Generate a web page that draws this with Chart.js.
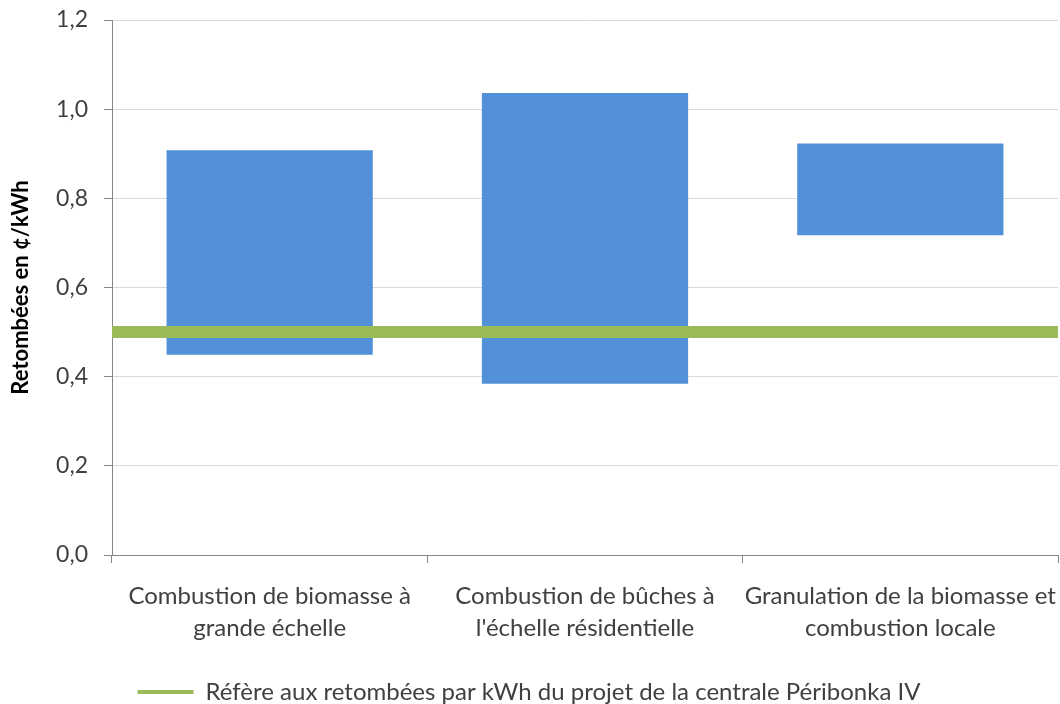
<!DOCTYPE html>
<html lang="fr">
<head>
<meta charset="utf-8">
<title>Retombées en ¢/kWh</title>
<script src="https://cdn.jsdelivr.net/npm/chart.js@4/dist/chart.umd.min.js"></script>
<style>
  html, body { margin: 0; padding: 0; background: #fff; }
  #wrap { width: 1060px; height: 704px; }
</style>
</head>
<body>
<div id="wrap"><canvas id="retombeesChart" width="1060" height="704"></canvas></div>
<script>
const categories = [
  ["Combustion de biomasse à", "grande échelle"],
  ["Combustion de bûches à", "l'échelle résidentielle"],
  ["Granulation de la biomasse et", "combustion locale"]
];
const lowValues = [0.449, 0.384, 0.717];
const highValues = [0.908, 1.036, 0.923];
const referenceValue = 0.5;
const referenceLabel = "Réfère aux retombées par kWh du projet de la centrale Péribonka IV";
const yTicks = [0, 0.2, 0.4, 0.6, 0.8, 1.0, 1.2];

const textColor = "#404040";
const fontName = "Lato";

const ranges = lowValues.map((low, i) => [low, highValues[i]]);

const ctx = document.getElementById("retombeesChart").getContext("2d");

new Chart(ctx, {
  type: "bar",
  data: {
    labels: categories,
    datasets: [
      {
        type: "line",
        label: referenceLabel,
        data: [{ x: 0, y: referenceValue }, { x: 1, y: referenceValue }],
        xAxisID: "xRef",
        borderColor: "#9BBB59",
        borderWidth: 12,
        pointRadius: 0,
        fill: false,
        order: 0
      },
      {
        label: "Plage",
        data: ranges,
        backgroundColor: "#5290D8",
        borderWidth: 0,
        grouped: false,
        barPercentage: 0.654,
        categoryPercentage: 1,
        order: 1
      }
    ]
  },
  options: {
    responsive: false,
    animation: false,
    layout: { padding: { top: 20, right: 2, left: 0, bottom: -10 } },
    plugins: {
      tooltip: { enabled: false },
      legend: {
        position: "bottom",
        labels: {
          color: textColor,
          font: { family: fontName, size: 24 },
          usePointStyle: true,
          pointStyleWidth: 56,
          padding: 1,
          generateLabels: () => [{
            text: referenceLabel,
            strokeStyle: "#9BBB59",
            fillStyle: "#9BBB59",
            lineWidth: 4,
            pointStyle: "line",
            datasetIndex: 0,
            fontColor: textColor
          }]
        }
      }
    },
    scales: {
      x: {
        offset: true,
        afterFit: (scale) => {
          scale.height = 124;
          scale.paddingLeft = 0;
          scale.paddingRight = 0;
        },
        grid: {
          offset: true,
          drawOnChartArea: false,
          tickLength: 8,
          color: "#868686"
        },
        border: { color: "#868686" },
        ticks: {
          color: textColor,
          font: { family: fontName, size: 24, lineHeight: 1.3 },
          maxRotation: 0,
          autoSkip: false,
          padding: 18
        }
      },
      xRef: {
        type: "linear",
        display: false,
        offset: false,
        min: 0,
        max: 1
      },
      y: {
        min: 0,
        max: 1.2,
        afterBuildTicks: (scale) => {
          scale.ticks = yTicks.map((v) => ({ value: v }));
        },
        afterFit: (scale) => {
          scale.width = 112;
          scale.paddingTop = 0;
          scale.paddingBottom = 0;
        },
        grid: {
          color: "#d9d9d9",
          tickColor: "#868686",
          tickLength: 8
        },
        border: { color: "#868686" },
        ticks: {
          color: textColor,
          font: { family: fontName, size: 23 },
          padding: 16,
          callback: (value) => value.toFixed(1).replace(".", ",")
        },
        title: {
          display: true,
          text: "Retombées en ¢/kWh",
          color: "#000",
          font: { family: fontName, size: 22, weight: "bold" },
          padding: { top: 8, bottom: 0 }
        }
      }
    }
  }
});
</script>
</body>
</html>
